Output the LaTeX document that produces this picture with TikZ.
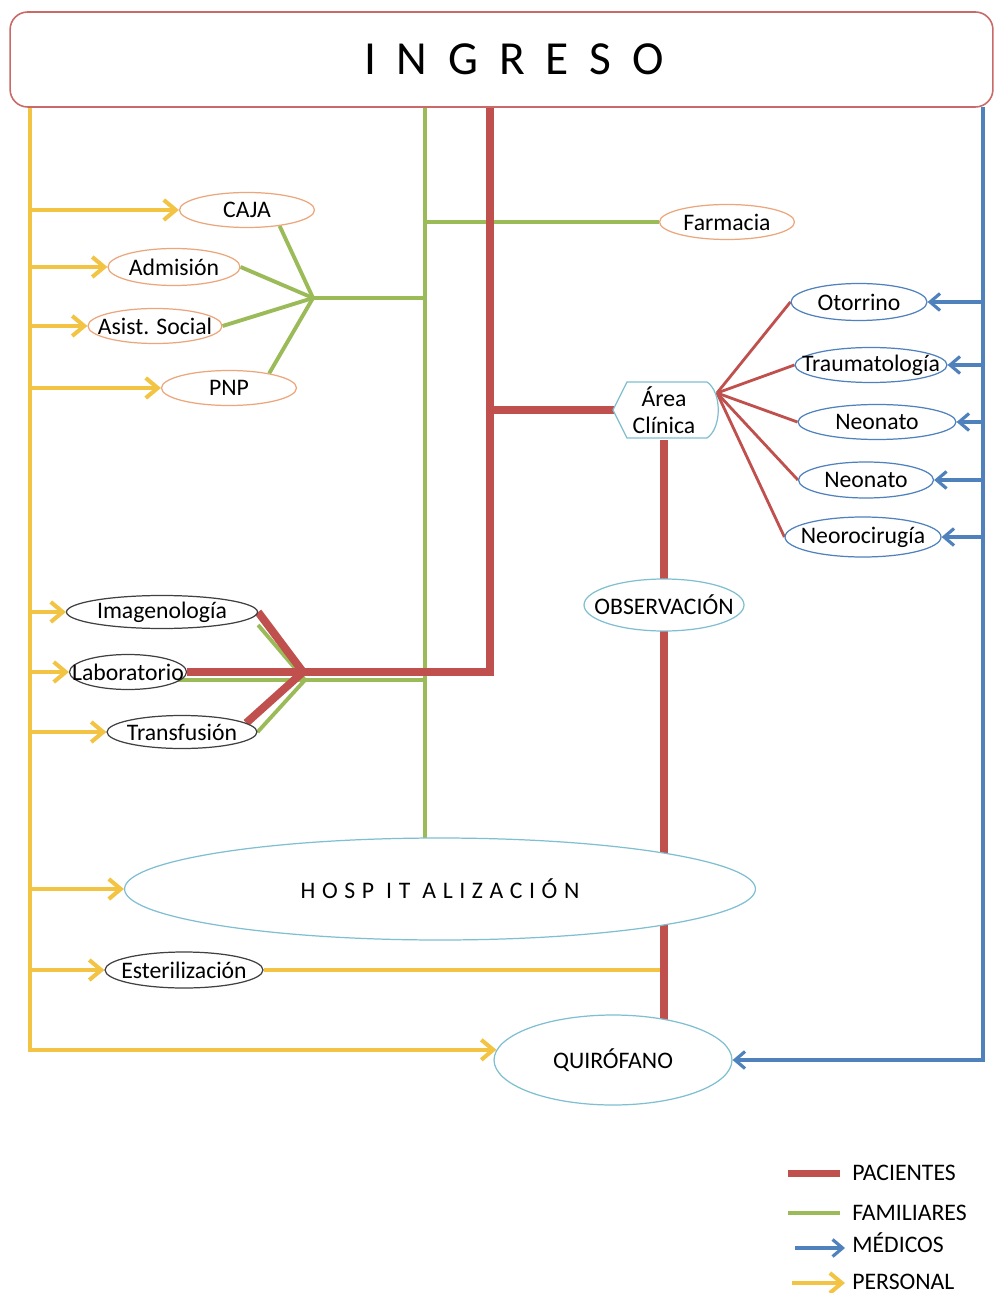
\documentclass[tikz,border=0pt]{standalone}
\usepackage{fontspec}
\setmainfont{Carlito}
\usetikzlibrary{shapes.geometric,arrows.meta,backgrounds}

\definecolor{rojo}{HTML}{C0504D}
\definecolor{verde}{HTML}{9BBB59}
\definecolor{azul}{HTML}{4F81BD}
\definecolor{amarillo}{HTML}{F3C443}
\definecolor{naranja}{HTML}{EBA77B}
\definecolor{celeste}{HTML}{7FBFD0}

\tikzset{
    paciente/.style = {draw = rojo, line width = 4.5pt},
    paciente fino/.style = {draw = rojo, line width = 1.6pt},
    familiar/.style = {draw = verde, line width = 2.2pt},
    medico/.style = {draw = azul, line width = 1.8pt, -{Straight Barb[length = 2mm, width = 3.4mm]}},
    personal/.style = {draw = amarillo, line width = 2.3pt, -{Straight Barb[length = 2.4mm, width = 4mm]}},
    oval/.style = {ellipse, fill = white, line width = 0.7pt, inner sep = 0pt},
    ovalnar/.style = {oval, draw = naranja},
    ovalneg/.style = {oval, draw = black!75},
    ovalazul/.style = {oval, draw = azul},
    ovalcel/.style = {oval, draw = celeste},
    every label/.style = {inner sep = 0pt}
}

\begin{document}
\begin{tikzpicture}[x = 0.02cm, y = -0.02cm, font = \fontsize{13.5}{15.5}\selectfont]
    \useasboundingbox (0,0) rectangle (995,1293);

    % cabecera
    \node[draw = rojo!85, rounded corners = 10pt, line width = 0.9pt, fill = white,
          minimum width = 19.66cm, minimum height = 1.9cm,
          font = \fontsize{27}{30}\selectfont\addfontfeature{LetterSpace = 44}] (ingreso) at (501.5,59.5) {\hspace*{14pt}INGRESO};

    % servicios de familiares
    \node[ovalnar, minimum width = 2.7cm, minimum height = 0.7cm, label = center:CAJA] (caja) at (247,210) {};
    \node[ovalnar, minimum width = 2.64cm, minimum height = 0.74cm, label = center:Admisión] (admision) at (174,267) {};
    \node[ovalnar, minimum width = 2.68cm, minimum height = 0.7cm, label = {center:Asist. Social}] (social) at (155,326) {};
    \node[ovalnar, minimum width = 2.7cm, minimum height = 0.7cm, label = center:PNP] (pnp) at (229,388) {};
    \node[ovalnar, minimum width = 2.7cm, minimum height = 0.7cm, label = center:Farmacia] (farmacia) at (727,222) {};

    % area clinica
    \draw[draw = celeste, line width = 0.7pt, fill = white] (613,410) -- (627,382) -- (707,382)
        .. controls (722,392) and (722,428) .. (707,438) -- (627,438) -- cycle;
    \node[align = center] (clinica) at (664,410) {Área\\Clínica};

    \node[ovalazul, minimum width = 2.72cm, minimum height = 0.74cm, label = center:Otorrino] (otorrino) at (859,302) {};
    \node[ovalazul, minimum width = 3.04cm, minimum height = 0.7cm, label = center:Traumatología] (trauma) at (871,365) {};
    \node[ovalazul, minimum width = 3.16cm, minimum height = 0.7cm, label = center:Neonato] (neonatoA) at (877,422) {};
    \node[ovalazul, minimum width = 2.7cm, minimum height = 0.72cm, label = center:Neonato] (neonatoB) at (866,480) {};
    \node[ovalazul, minimum width = 3.12cm, minimum height = 0.8cm, label = center:Neorocirugía] (neurocir) at (863,537) {};

    \node[ovalcel, minimum width = 3.2cm, minimum height = 1.04cm, label = center:OBSERVACIÓN] (obs) at (664,605) {};

    % apoyo
    \node[ovalneg, minimum width = 3.82cm, minimum height = 0.66cm, label = center:Imagenología] (imagen) at (162,612) {};
    \node[ovalneg, minimum width = 2.34cm, minimum height = 0.7cm, label = center:Laboratorio] (lab) at (128,672) {};
    \node[ovalneg, minimum width = 3.0cm, minimum height = 0.66cm, label = center:Transfusión] (transf) at (182,732) {};

    \node[ovalcel, minimum width = 12.62cm, minimum height = 2.04cm,
          label = {[font = \fontsize{13.5}{15.5}\selectfont\addfontfeature{LetterSpace = 28}]center:HOSP IT ALIZACIÓN}] (hosp) at (440,889) {};
    \node[ovalneg, minimum width = 3.16cm, minimum height = 0.72cm, label = center:Esterilización] (ester) at (184,970) {};
    \node[ovalcel, minimum width = 4.76cm, minimum height = 1.8cm, label = center:QUIRÓFANO] (quirofano) at (613,1060) {};

    % troncos
    \coordinate (ytop) at (30,107);
    \coordinate (gtop) at (425,107);
    \coordinate (rtop) at (490,107);
    \coordinate (btop) at (983,107);
    \coordinate (gj1) at (313,298);
    \coordinate (gj2) at (305,680);
    \coordinate (rj) at (303,672);
    \coordinate (fan) at (717,393);

    \begin{scope}[on background layer]
        \fill[white] (0,0) rectangle (995,1293);

        % personal
        \draw[personal] (ytop) -- (ytop |- quirofano.175) -- (quirofano.175);
        \foreach \n in {caja, admision, social, pnp, imagen, lab, transf, hosp, ester}
            \draw[personal] (ytop |- \n) -- (\n.west);
        \draw[amarillo, line width = 2.3pt] (ester) -- (ester -| obs);

        % familiares
        \draw[familiar] (gtop) -- (gtop |- hosp);
        \draw[familiar] (gtop |- farmacia) -- (farmacia);
        \draw[familiar] (gtop |- gj1) -- (gj1);
        \foreach \n in {caja.-26, admision.east, social.east, pnp.20}
            \draw[familiar] (gj1) -- (\n);
        \draw[familiar] (gtop |- gj2) -- (gj2 -| lab);
        \draw[familiar] ([shift = {(0,13)}]imagen.east) -- (gj2) -- (transf.east);

        % pacientes
        \draw[paciente] (lab.east) -- (rj) -- (rtop |- rj) -- (rtop);
        \draw[paciente] (imagen.east) -- (rj) -- (transf.8);
        \draw[paciente] (rtop |- clinica) -- (clinica);
        \draw[paciente] (clinica) -- (clinica |- quirofano);
        \foreach \n in {otorrino, trauma, neonatoA, neonatoB, neurocir}
            \draw[paciente fino] (fan) -- (\n.west);

        % medicos
        \draw[medico] (btop) -- (btop |- quirofano.east) -- (quirofano.east);
        \foreach \n in {otorrino, trauma, neonatoA, neonatoB, neurocir}
            \draw[medico] (btop |- \n) -- (\n.east);
    \end{scope}

    % leyenda
    \node[anchor = west, inner sep = 0pt] (legP) at (852,1173) {PACIENTES};
    \node[anchor = west, inner sep = 0pt] (legF) at (852,1213) {FAMILIARES};
    \node[anchor = west, inner sep = 0pt] (legM) at (852,1243) {MÉDICOS};
    \node[anchor = west, inner sep = 0pt] (legS) at (852,1282) {PERSONAL};
    \draw[rojo, line width = 4pt] ([xshift = -1.28cm]legP.west) -- ([xshift = -0.24cm]legP.west);
    \draw[verde, line width = 2.2pt] ([xshift = -1.28cm]legF.west) -- ([xshift = -0.24cm]legF.west);
    \draw[medico] ([shift = {(-57,5)}]legM.west) -- ([shift = {(-7,5)}]legM.west);
    \draw[personal] ([shift = {(-60,1)}]legS.west) -- ([shift = {(-7,1)}]legS.west);
\end{tikzpicture}
\end{document}
